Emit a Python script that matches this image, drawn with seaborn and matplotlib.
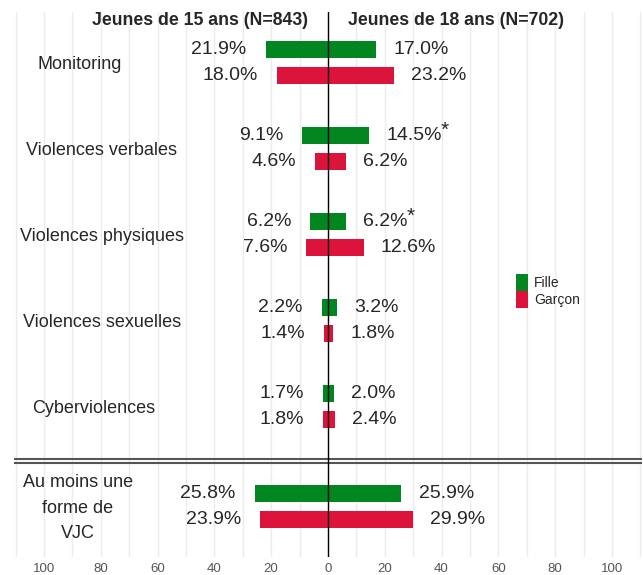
import pandas as pd
import seaborn as sns
import matplotlib.pyplot as plt
from matplotlib.ticker import MultipleLocator, FuncFormatter

# Données
categories = ['Monitoring', 'Violences verbales', 'Violences physiques',
              'Violences sexuelles', 'Cyberviolences', 'Au moins une\nforme de\nVJC']
fille_15 = [21.9, 9.1, 6.2, 2.2, 1.7, 25.8]
garcon_15 = [18.0, 4.6, 7.6, 1.4, 1.8, 23.9]
fille_18 = [17.0, 14.5, 6.2, 3.2, 2.0, 25.9]
garcon_18 = [23.2, 6.2, 12.6, 1.8, 2.4, 29.9]
signif_fille_18 = [False, True, True, False, False, False]
header_15 = 'Jeunes de 15 ans (N=843)'
header_18 = 'Jeunes de 18 ans (N=702)'

palette = {'Fille': '#02861f', 'Garçon': '#dc143c'}

# Mise en page verticale des groupes et position des libellés
group_pos = [0, 1, 2, 3, 4, 5.163]
offset = 0.151
label_x = [-87.4, -79.8, -79.6, -79.6, -82.5, -88.1]

rows = []
for i, cat in enumerate(categories):
    rows.append({'cat': cat, 'sexe': 'Fille', 'y': group_pos[i] - offset,
                 'v15': fille_15[i], 'v18': fille_18[i], 'star': signif_fille_18[i]})
    rows.append({'cat': cat, 'sexe': 'Garçon', 'y': group_pos[i] + offset,
                 'v15': garcon_15[i], 'v18': garcon_18[i], 'star': False})
df = pd.DataFrame(rows)
df['left'] = -df['v15']

sns.set_theme(style='white')
plt.rcParams['font.family'] = ['Liberation Sans', 'DejaVu Sans']

fig, ax = plt.subplots(figsize=(6.43, 5.75), dpi=100)
fig.subplots_adjust(left=0.022, right=0.998, top=1 - 12 / 575, bottom=1 - 557 / 575)

sns.barplot(data=df, x='left', y='y', hue='sexe', palette=palette, orient='y',
            native_scale=True, dodge=False, width=0.64, saturation=1, errorbar=None,
            linewidth=0, legend=False, ax=ax)
sns.barplot(data=df, x='v18', y='y', hue='sexe', palette=palette, orient='y',
            native_scale=True, dodge=False, width=0.64, saturation=1, errorbar=None,
            linewidth=0, legend=True, ax=ax)

ax.set_xlim(-110.5, 110.5)
ax.set_ylim(5.75, -0.587)
ax.xaxis.set_major_locator(MultipleLocator(20))
ax.xaxis.set_minor_locator(MultipleLocator(10))
ax.xaxis.set_major_formatter(FuncFormatter(lambda v, p: f'{abs(v):.0f}'))
ax.grid(True, which='both', axis='x', color='#ebebeb', lw=1)
ax.set_axisbelow(True)
ax.tick_params(axis='x', which='both', length=0, labelsize=9.5, labelcolor='#555555', pad=4)
ax.set_yticks([])
ax.set_xlabel('')
ax.set_ylabel('')
for s in ax.spines.values():
    s.set_visible(False)

ax.axvline(0, color='black', lw=1, zorder=5)
ax.axhline(4.61, color='#555555', lw=1.5)
ax.axhline(4.657, color='#555555', lw=1.5)

# Étiquettes des valeurs
star_labels = []
for _, r in df.iterrows():
    ax.text(-r['v15'] - 6.7, r['y'], f"{r['v15']:.1f}%", ha='right', va='center', fontsize=14)
    t = ax.text(r['v18'] + 6.0, r['y'], f"{r['v18']:.1f}%", ha='left', va='center', fontsize=14)
    if r['star']:
        star_labels.append(t)

# Astérisques (différence significative)
fig.canvas.draw()
inv = ax.transData.inverted()
for t in star_labels:
    bb = t.get_window_extent()
    x_end, y_top = inv.transform((bb.x1, bb.y1))
    ax.text(x_end - 0.3, y_top + 0.04, '*', ha='left', va='center', fontsize=15)

# Catégories
for i, cat in enumerate(categories):
    ax.text(label_x[i], group_pos[i] + 0.02, cat, ha='center', va='center', fontsize=13, linespacing=1.65)

ax.text(-45, -0.49, header_15, ha='center', va='center', fontsize=12.7, fontweight='bold')
ax.text(45, -0.49, header_18, ha='center', va='center', fontsize=12.7, fontweight='bold')

sns.move_legend(ax, 'center left', bbox_to_anchor=(0.80, 0.488), frameon=False, title=None,
                handlelength=0.85, handleheight=1.55, handletextpad=0.45, labelspacing=0,
                fontsize=10, borderpad=0, borderaxespad=0)

fig.savefig('out.png', dpi=100)
